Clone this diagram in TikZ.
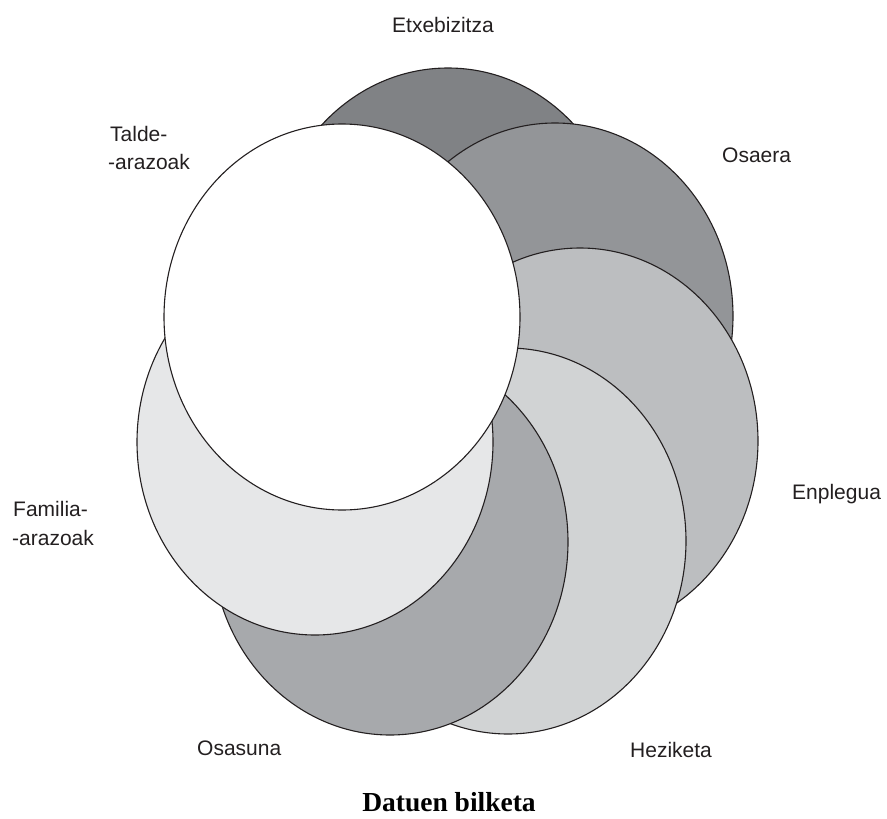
\documentclass[tikz,border=0pt]{standalone}
\usepackage{fontspec}
\setmainfont{Liberation Sans}
\newfontfamily\titlefont{Liberation Serif}
\usetikzlibrary{shapes.geometric}
\definecolor{inkc}{HTML}{231F20}
\definecolor{cEtx}{HTML}{808285}
\definecolor{cOsa}{HTML}{939598}
\definecolor{cEnp}{HTML}{BCBEC0}
\definecolor{cHez}{HTML}{D1D3D4}
\definecolor{cOss}{HTML}{A7A9AC}
\definecolor{cFam}{HTML}{E6E7E8}
\tikzset{
  bubble/.style={ellipse, draw=inkc, line width=1.1pt, minimum width=356pt, minimum height=386pt, inner sep=0pt},
  lbl/.style={anchor=base west, inner sep=0pt, text=inkc, font=\fontsize{21}{28}\selectfont},
  ttl/.style={anchor=base, inner sep=0pt, text=black, font=\titlefont\bfseries\fontsize{27.5}{32}\selectfont}
}
\begin{document}
\begin{tikzpicture}[x=1pt,y=-1pt]
\useasboundingbox (0,0) rectangle (887,819);
\node[bubble, fill=cEtx] (etx) at (448,261) {};
\node[bubble, fill=cOsa] (osa) at (555,316) {};
\node[bubble, fill=cEnp] (enp) at (580,441) {};
\node[bubble, fill=cHez] (hez) at (508,541) {};
\node[bubble, fill=cOss] (oss) at (390,542) {};
\node[bubble, fill=cFam] (fam) at (315,442) {};
\node[bubble, fill=white] (tal) at (342,317) {};
\node[lbl] (lEtx) at (392,32) {Etxebizitza};
\node[lbl] (lTal1) at (110,141) {Talde-};
\node[lbl] (lTal2) at (108,169) {-arazoak};
\node[lbl] (lOsa) at (722,162) {Osaera};
\node[lbl] (lEnp) at (792,499) {Enplegua};
\node[lbl] (lFam1) at (13,516) {Familia-};
\node[lbl] (lFam2) at (12,545) {-arazoak};
\node[lbl] (lOss) at (197,755) {Osasuna};
\node[lbl] (lHez) at (630,757) {Heziketa};
\node[ttl] (title) at (449,811) {Datuen bilketa};
\end{tikzpicture}
\end{document}
